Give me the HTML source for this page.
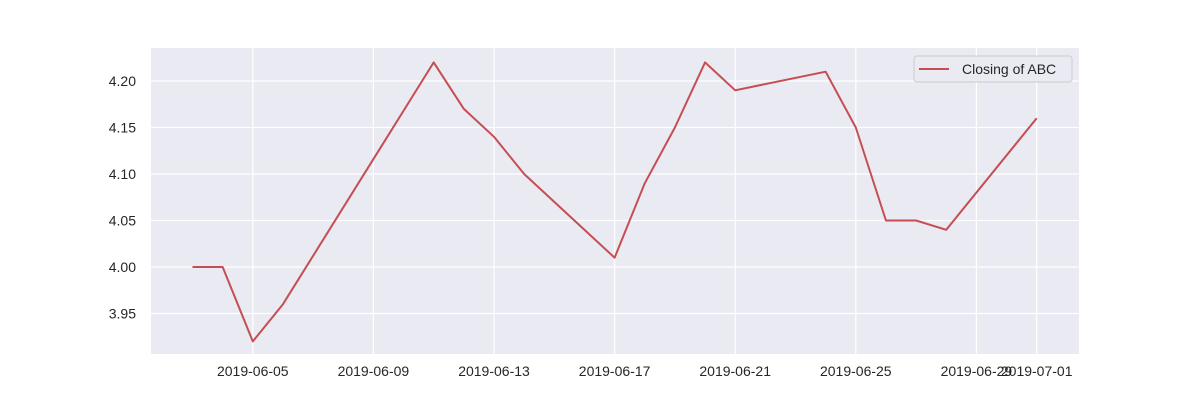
<!DOCTYPE html>
<html><head><meta charset="utf-8"><style>
body{margin:0;background:#fff;}
svg text{font-family:"Liberation Sans",sans-serif;fill:#262626;}
</style></head><body>
<svg width="1200" height="400">
<rect x="151" y="48" width="928" height="306" fill="#eaeaf2"/>
<g id="grid"></g><g id="ticks"></g>
<polyline id="line" fill="none" stroke="#c44e52" stroke-width="2" stroke-linejoin="round"/>
<g>
<rect x="914" y="56" width="158" height="26" rx="3" fill="#eaeaf2" stroke="#cccccc"/>
<line x1="919" y1="69" x2="949" y2="69" stroke="#c44e52" stroke-width="2"/>
<text x="962" y="74" font-size="14">Closing of ABC</text>
</g>
</svg>
<script>
const dates=["2019-06-03","2019-06-04","2019-06-05","2019-06-06","2019-06-11","2019-06-12","2019-06-13","2019-06-14","2019-06-17","2019-06-18","2019-06-19","2019-06-20","2019-06-21","2019-06-24","2019-06-25","2019-06-26","2019-06-27","2019-06-28","2019-07-01"];
const closes=[4.00,4.00,3.92,3.96,4.22,4.17,4.14,4.10,4.01,4.09,4.15,4.22,4.19,4.21,4.15,4.05,4.05,4.04,4.16];
const xTicks=["2019-06-05","2019-06-09","2019-06-13","2019-06-17","2019-06-21","2019-06-25","2019-06-29","2019-07-01"];
const yTicks=[3.95,4.00,4.05,4.10,4.15,4.20];
const NS="http://www.w3.org/2000/svg";
const day=s=>Date.parse(s+"T00:00:00Z")/864e5;
const d0=day("2019-06-03");
const x=s=>192.5+(day(s)-d0)*30.15;
const y=v=>267-(v-4.0)*930;
const grid=document.getElementById("grid"),ticks=document.getElementById("ticks");
function mk(tag,attrs,parent){const e=document.createElementNS(NS,tag);for(const k in attrs)e.setAttribute(k,attrs[k]);parent.appendChild(e);return e;}
xTicks.forEach(t=>{
 const gl=mk("line",{x1:x(t),x2:x(t),y1:48,y2:354,stroke:"#fff","stroke-width":1.2},grid);
 
 
 const tx=mk("text",{x:x(t),y:376,"font-size":14,"text-anchor":"middle"},ticks);
 tx.textContent=t;
 
 
});
yTicks.forEach(v=>{
 const gl=mk("line",{x1:151,x2:1079,y1:y(v),y2:y(v),stroke:"#fff","stroke-width":1.2},grid);
 
 
 const tx=mk("text",{x:136,y:y(v)+5,"font-size":14,"text-anchor":"end"},ticks);
 tx.textContent=v.toFixed(2);
 
 
});
document.getElementById("line").setAttribute("points",dates.map((d,i)=>x(d)+","+y(closes[i])).join(" "));
</script>
</body></html>
